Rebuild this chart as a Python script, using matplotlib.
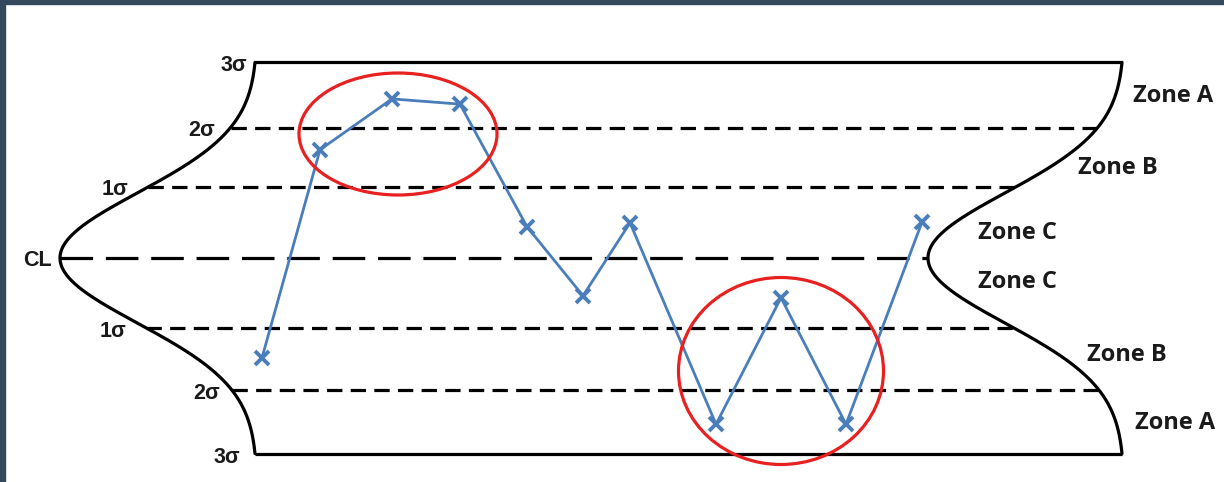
import numpy as np
import matplotlib
matplotlib.use("Agg")
import matplotlib.pyplot as plt
from matplotlib.patches import Ellipse, Rectangle

# ---- data ----
sample_x = [262, 320, 392, 460, 527, 583, 630, 716, 781, 846, 922]
sample_sigma = [-1.53, 1.66, 2.44, 2.36, 0.48, -0.58, 0.54, -2.55, -0.61, -2.55, 0.55]

sigma_levels = [3, 2, 1.09, 0, -1.07, -2.02, -3]
level_styles = ["solid", "short", "short", "long", "short", "short", "solid"]
left_labels = ["3σ", "2σ", "1σ", "CL", "1σ", "2σ", "3σ"]
zone_labels = ["Zone A", "Zone B", "Zone C", "Zone C", "Zone B", "Zone A"]
zone_sigma = [2.48, 1.38, 0.38, -0.37, -1.49, -2.53]
zone_x = [1133, 1078, 978, 978, 1087, 1135]

# ---- layout constants ----
W, H, DPI = 1224, 482, 100
CL_PX, SIG_PX = 258, 65.2
left_end, left_vertex = 255, 60
right_end, right_vertex = 1122, 928
label_offsets = [8, 16, 20, 8, 20, 12, 15]

fig = plt.figure(figsize=(W / DPI, H / DPI), dpi=DPI)
ax = fig.add_axes([0, 0, 1, 1])
ax.set_xlim(0, W)
ax.set_ylim((CL_PX - H) / SIG_PX, CL_PX / SIG_PX)
ax.axis("off")

def bell(s):
    g = np.exp(-np.asarray(s) ** 2 / 2)
    g0 = np.exp(-4.5)
    return (g - g0) / (1 - g0)

def left_curve(s):
    return left_end - (left_end - left_vertex) * bell(s)

def right_curve(s):
    return right_end - (right_end - right_vertex) * bell(s)

s = np.linspace(-3, 3, 400)
ax.plot(left_curve(s), s, color="black", lw=2.3, solid_capstyle="round")
ax.plot(right_curve(s), s, color="black", lw=2.3, solid_capstyle="round")

for lv, st in zip(sigma_levels, level_styles):
    x0 = float(left_curve(lv))
    x1 = float(right_curve(lv))
    if st == "solid":
        ax.plot([x0, x1], [lv, lv], color="black", lw=2.3, solid_capstyle="butt")
    elif st == "long":
        ax.plot([x0, x1], [lv, lv], color="black", lw=2.3, dashes=(10.2, 4.0),
                dash_capstyle="butt")
    else:
        ax.plot([x0, x1], [lv, lv], color="black", lw=2.3, dashes=(4.8, 2.6),
                dash_capstyle="butt")

# left labels
for lv, lab, off in zip(sigma_levels, left_labels, label_offsets):
    x0 = float(left_curve(lv)) - off
    dy = -0.04 if lv >= 0 else -0.06
    ax.text(x0, lv + dy, lab, ha="right", va="center", fontsize=15.5,
            fontweight="bold", family="Liberation Sans", color="#1a1a1a")

for zx, zs, zl in zip(zone_x, zone_sigma, zone_labels):
    ax.text(zx, zs, zl, ha="left", va="center", fontsize=17,
            fontweight="bold", family="Open Sans", color="#1a1a1a")

# data series
ax.plot(sample_x, sample_sigma, color="#4a7ebb", lw=2.0, marker="x",
        markersize=10, markeredgewidth=2.8, zorder=5)

# highlight ellipses
ax.add_patch(Ellipse((398, (CL_PX - 134) / SIG_PX), 198, 122 / SIG_PX,
                     fill=False, edgecolor="#e82020", lw=2.3, zorder=6))
ax.add_patch(Ellipse((781, (CL_PX - 371) / SIG_PX), 205, 187 / SIG_PX,
                     fill=False, edgecolor="#e82020", lw=2.3, zorder=6))

# frame bands
fig.patches.append(Rectangle((0, 1 - 4 / H), 1, 4 / H, transform=fig.transFigure,
                             color="#34495e", zorder=10))
fig.patches.append(Rectangle((0, 0), 5 / W, 1, transform=fig.transFigure,
                             color="#34495e", zorder=10))

fig.savefig("out.png", dpi=DPI)
